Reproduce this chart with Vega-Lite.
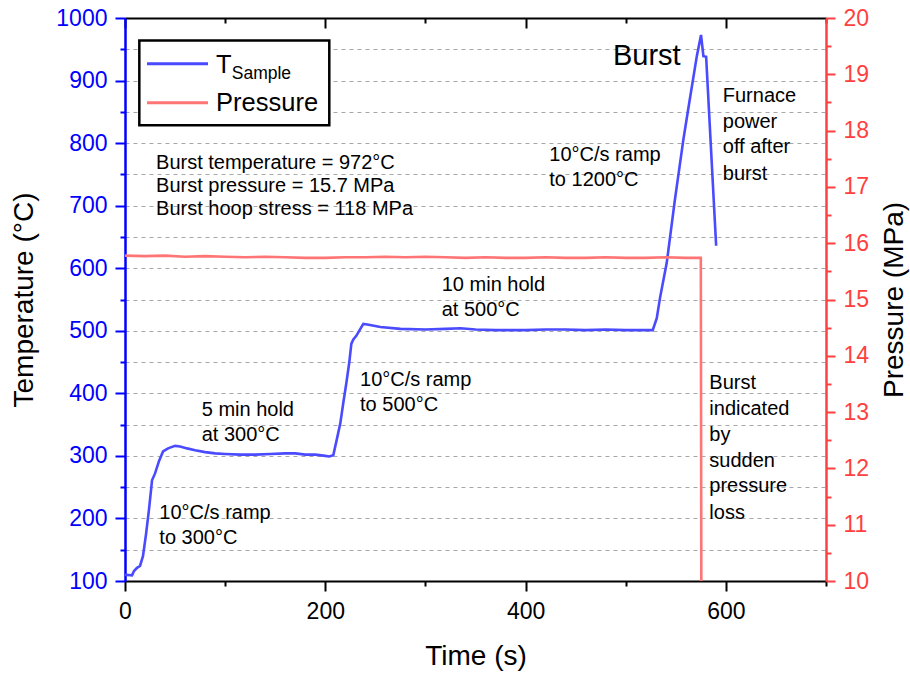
{
  "$schema": "https://vega.github.io/schema/vega-lite/v6.json",
  "autosize": {"type": "none"},
  "padding": {"left": 125, "top": 18, "right": 84, "bottom": 94},
  "width": 701,
  "height": 563,
  "background": "white",
  "config": {
    "font": "Liberation Sans",
    "view": {"stroke": null},
    "axis": {"labelFont": "Liberation Sans", "titleFont": "Liberation Sans", "titleFontWeight": "normal"}
  },
  "datasets": {
    "temp": [
      {"t": 0, "T": 110}, {"t": 7, "T": 109}, {"t": 9, "T": 116}, {"t": 12, "T": 121}, {"t": 15, "T": 124},
      {"t": 18, "T": 140}, {"t": 21, "T": 175}, {"t": 24, "T": 215}, {"t": 27, "T": 261}, {"t": 30, "T": 272},
      {"t": 34, "T": 292}, {"t": 38, "T": 307}, {"t": 43, "T": 312}, {"t": 50, "T": 316}, {"t": 55, "T": 315},
      {"t": 62, "T": 312}, {"t": 70, "T": 309}, {"t": 80, "T": 306}, {"t": 90, "T": 304}, {"t": 100, "T": 303},
      {"t": 115, "T": 302}, {"t": 130, "T": 302}, {"t": 145, "T": 303}, {"t": 160, "T": 304}, {"t": 170, "T": 304},
      {"t": 180, "T": 302}, {"t": 190, "T": 302}, {"t": 200, "T": 300}, {"t": 204, "T": 299}, {"t": 208, "T": 301},
      {"t": 212, "T": 330}, {"t": 215, "T": 352}, {"t": 218, "T": 385}, {"t": 221, "T": 416}, {"t": 224, "T": 450},
      {"t": 226, "T": 479}, {"t": 228, "T": 486}, {"t": 231, "T": 492}, {"t": 235, "T": 503}, {"t": 238, "T": 511},
      {"t": 242, "T": 510}, {"t": 255, "T": 506}, {"t": 275, "T": 503}, {"t": 300, "T": 502}, {"t": 320, "T": 503},
      {"t": 335, "T": 504}, {"t": 350, "T": 502}, {"t": 370, "T": 501}, {"t": 400, "T": 501}, {"t": 420, "T": 502},
      {"t": 440, "T": 502}, {"t": 460, "T": 501}, {"t": 480, "T": 502}, {"t": 500, "T": 501}, {"t": 515, "T": 501},
      {"t": 527, "T": 501}, {"t": 531, "T": 520}, {"t": 534.3, "T": 553}, {"t": 541, "T": 609}, {"t": 549, "T": 708},
      {"t": 557.6, "T": 806}, {"t": 564, "T": 870}, {"t": 571, "T": 939}, {"t": 575.2, "T": 973}, {"t": 577.6, "T": 939},
      {"t": 580.3, "T": 938}, {"t": 590.3, "T": 636}
    ],
    "pressure": [
      {"t": 0, "P": 15.78}, {"t": 20, "P": 15.77}, {"t": 40, "P": 15.78}, {"t": 60, "P": 15.76}, {"t": 80, "P": 15.77},
      {"t": 100, "P": 15.76}, {"t": 120, "P": 15.75}, {"t": 140, "P": 15.76}, {"t": 160, "P": 15.75}, {"t": 180, "P": 15.74},
      {"t": 200, "P": 15.74}, {"t": 220, "P": 15.75}, {"t": 240, "P": 15.75}, {"t": 260, "P": 15.76}, {"t": 280, "P": 15.75},
      {"t": 300, "P": 15.76}, {"t": 320, "P": 15.75}, {"t": 340, "P": 15.74}, {"t": 360, "P": 15.75}, {"t": 380, "P": 15.74},
      {"t": 400, "P": 15.74}, {"t": 420, "P": 15.75}, {"t": 440, "P": 15.74}, {"t": 460, "P": 15.74}, {"t": 480, "P": 15.75},
      {"t": 500, "P": 15.74}, {"t": 520, "P": 15.74}, {"t": 540, "P": 15.75}, {"t": 560, "P": 15.74}, {"t": 575, "P": 15.74},
      {"t": 575.5, "P": 10}
    ],
    "notes": [
      {"t": 31, "T": 759.4, "label": "Burst temperature = 972°C"},
      {"t": 31, "T": 721.5, "label": "Burst pressure = 15.7 MPa"},
      {"t": 31, "T": 684.3, "label": "Burst hoop stress = 118 MPa"},
      {"t": 76.6, "T": 363.4, "label": "5 min hold"},
      {"t": 76.6, "T": 323.5, "label": "at 300°C"},
      {"t": 34.3, "T": 199.4, "label": "10°C/s ramp"},
      {"t": 34.3, "T": 159.4, "label": "to 300°C"},
      {"t": 234.7, "T": 412.5, "label": "10°C/s ramp"},
      {"t": 234.7, "T": 372.5, "label": "to 500°C"},
      {"t": 316.3, "T": 563.3, "label": "10 min hold"},
      {"t": 316.3, "T": 523.3, "label": "at 500°C"},
      {"t": 423.7, "T": 771.1, "label": "10°C/s ramp"},
      {"t": 423.7, "T": 731.1, "label": "to 1200°C"},
      {"t": 596.9, "T": 865.4, "label": "Furnace"},
      {"t": 596.9, "T": 824.5, "label": "power"},
      {"t": 596.9, "T": 783.4, "label": "off after"},
      {"t": 596.9, "T": 741.8, "label": "burst"},
      {"t": 583.5, "T": 407.2, "label": "Burst"},
      {"t": 583.5, "T": 365.0, "label": "indicated"},
      {"t": 583.5, "T": 323.5, "label": "by"},
      {"t": 583.5, "T": 283.0, "label": "sudden"},
      {"t": 583.5, "T": 241.5, "label": "pressure"},
      {"t": 583.5, "T": 199.9, "label": "loss"}
    ],
    "burstTitle": [{"t": 487.3, "T": 924.5, "label": "Burst"}],
    "legendBox": [{"t": 14.3, "t2": 204, "T": 964, "T2": 828.6}],
    "legendLines": [
      {"t": 22, "t2": 82.9, "T": 926.8, "series": "TSample"},
      {"t": 22, "t2": 82.9, "T": 864.4, "series": "Pressure"}
    ],
    "legendBig": [
      {"t": 90.9, "T": 912.4, "label": "T"},
      {"t": 90.9, "T": 852.1, "label": "Pressure"}
    ],
    "legendSub": [{"t": 106.6, "T": 901.7, "label": "Sample"}]
  },
  "layer": [
    {
      "encoding": {
        "x": {
          "field": "t", "type": "quantitative",
          "scale": {"domain": [0, 700], "nice": false, "zero": false},
          "axis": {
            "orient": "bottom",
            "values": [0, 100, 200, 300, 400, 500, 600, 700],
            "labelExpr": "datum.value % 200 === 0 ? format(datum.value, 'd') : ''",
            "tickSize": {"condition": {"test": "datum.value % 200 === 0", "value": 10}, "value": 5},
            "tickColor": "black", "tickWidth": 2,
            "domainColor": "black", "domainWidth": 2,
            "labelColor": "black", "labelFontSize": 23, "labelPadding": 9,
            "labelFlush": false, "labelOverlap": false,
            "title": "Time (s)", "titleFontSize": 28, "titleColor": "black", "titlePadding": 19,
            "grid": false
          }
        },
        "y": {
          "field": "T", "type": "quantitative",
          "scale": {"domain": [100, 1000], "nice": false, "zero": false},
          "axis": {
            "orient": "left",
            "values": [100, 150, 200, 250, 300, 350, 400, 450, 500, 550, 600, 650, 700, 750, 800, 850, 900, 950, 1000],
            "labelExpr": "datum.value % 100 === 0 ? format(datum.value, 'd') : ''",
            "tickSize": {"condition": {"test": "datum.value % 100 === 0", "value": 10}, "value": 5},
            "tickColor": "#0000ff", "tickWidth": 2,
            "domainColor": "#0000ff", "domainWidth": 2.5,
            "labelColor": "#0000ff", "labelFontSize": 23, "labelPadding": 8, "labelOverlap": false,
            "title": "Temperature (°C)", "titleFontSize": 28, "titleColor": "black", "titlePadding": 17,
            "grid": true, "gridDash": [4, 4], "gridColor": "#a8a8a8", "gridWidth": 1
          }
        }
      },
      "layer": [
        {
          "data": {"name": "temp"},
          "mark": {"type": "line", "color": "#4a4aff", "strokeWidth": 2.6}
        },
        {
          "data": {"name": "legendBox"},
          "mark": {"type": "rect", "fill": "white", "stroke": "black", "strokeWidth": 2.5},
          "encoding": {"x2": {"field": "t2"}, "y2": {"field": "T2"}}
        },
        {
          "data": {"name": "legendLines"},
          "mark": {"type": "rule", "strokeWidth": 3},
          "encoding": {
            "x2": {"field": "t2"},
            "color": {
              "field": "series", "type": "nominal",
              "scale": {"domain": ["TSample", "Pressure"], "range": ["#4a4aff", "#ff7575"]},
              "legend": null
            }
          }
        },
        {
          "data": {"name": "notes"},
          "mark": {"type": "text", "align": "left", "baseline": "alphabetic", "fontSize": 20, "color": "black", "font": "Liberation Sans"},
          "encoding": {"text": {"field": "label"}}
        },
        {
          "data": {"name": "burstTitle"},
          "mark": {"type": "text", "align": "left", "baseline": "alphabetic", "fontSize": 29, "color": "black", "font": "Liberation Sans"},
          "encoding": {"text": {"field": "label"}}
        },
        {
          "data": {"name": "legendBig"},
          "mark": {"type": "text", "align": "left", "baseline": "alphabetic", "fontSize": 25.5, "color": "black", "font": "Liberation Sans"},
          "encoding": {"text": {"field": "label"}}
        },
        {
          "data": {"name": "legendSub"},
          "mark": {"type": "text", "align": "left", "baseline": "alphabetic", "fontSize": 17.5, "color": "black", "font": "Liberation Sans"},
          "encoding": {"text": {"field": "label"}}
        }
      ]
    },
    {
      "data": {"name": "pressure"},
      "mark": {"type": "line", "color": "#ff7575", "strokeWidth": 2.6},
      "encoding": {
        "x": {
          "field": "t", "type": "quantitative",
          "scale": {"domain": [0, 700], "nice": false, "zero": false},
          "axis": {
            "orient": "top",
            "values": [0, 100, 200, 300, 400, 500, 600, 700],
            "labels": false, "title": null,
            "tickSize": {"condition": {"test": "datum.value % 200 === 0", "value": -10}, "value": -5},
            "tickColor": "black", "tickWidth": 2,
            "domainColor": "black", "domainWidth": 2,
            "grid": false
          }
        },
        "y": {
          "field": "P", "type": "quantitative",
          "scale": {"domain": [10, 20], "nice": false, "zero": false},
          "axis": {
            "orient": "right",
            "values": [10, 10.5, 11, 11.5, 12, 12.5, 13, 13.5, 14, 14.5, 15, 15.5, 16, 16.5, 17, 17.5, 18, 18.5, 19, 19.5, 20],
            "labelExpr": "datum.value % 1 === 0 ? format(datum.value, 'd') : ''",
            "tickSize": {"condition": {"test": "datum.value % 1 === 0", "value": 9}, "value": 5},
            "tickColor": "#ff4040", "tickWidth": 2,
            "domainColor": "#ff4040", "domainWidth": 2.5,
            "labelColor": "#ff4040", "labelFontSize": 23, "labelPadding": 8, "labelOverlap": false,
            "title": "Pressure (MPa)", "titleFontSize": 28, "titleColor": "black", "titlePadding": 12,
            "titleAngle": 270, "titleBaseline": "top",
            "grid": false
          }
        }
      }
    }
  ],
  "resolve": {"scale": {"y": "independent"}, "axis": {"x": "independent"}}
}
